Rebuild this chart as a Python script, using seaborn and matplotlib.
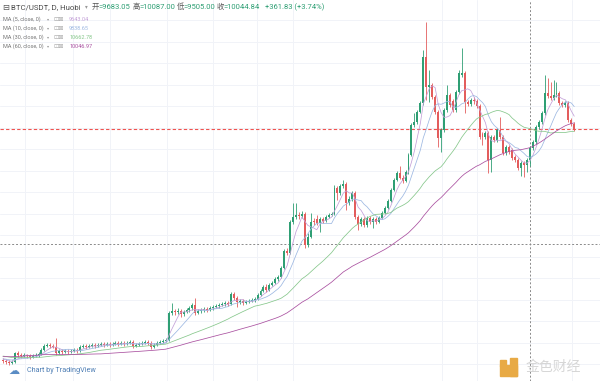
import numpy as np
import pandas as pd
import matplotlib
matplotlib.use("Agg")
import matplotlib.pyplot as plt
import seaborn as sns
from matplotlib.patches import Rectangle

# hidden earlier closes, only used to warm up the moving averages
warmup_close = [3700, 3600, 3560, 3540, 3570, 3550, 3500, 3480, 3460, 3440,
                3450, 3460, 3520, 3720, 3840, 3920, 4100, 4020, 4040, 3920,
                3980, 3880, 3980, 3930, 3850, 3900, 3870, 3990, 3930, 3940,
                3920, 4060, 4100, 3780, 3790, 3820, 3810, 3820, 3780, 3750,
                3840, 3810, 3830, 3790, 3750, 3780, 3800, 3800, 3770, 3720,
                3740, 3750, 3680, 3730, 3710, 3710, 3740, 3700, 3680]

# daily candles BTC/USDT (Huobi)
opens = [3670, 3640, 3610, 3580, 3610, 3880, 3820, 3790, 3820, 3790,
         3760, 3790, 3820, 3850, 3970, 4090, 4120, 4090, 4060, 3880,
         3940, 3910, 3940, 3910, 3940, 3970, 3940, 4060, 4090, 4060,
         4090, 4120, 4090, 4120, 4150, 4120, 4150, 4120, 4150, 4180,
         4150, 4180, 4150, 4180, 4210, 4090, 4120, 4150, 4180, 4210,
         4180, 4060, 4120, 4180, 4210, 4240, 4270, 5080, 5140, 5110,
         5140, 5050, 5110, 5170, 5230, 5320, 5080, 5140, 5170, 5200,
         5170, 5230, 5260, 5290, 5320, 5350, 5380, 5350, 5650, 5530,
         5410, 5440, 5380, 5410, 5440, 5470, 5500, 5620, 5740, 5860,
         5770, 5920, 5980, 6100, 6160, 6430, 6940, 6880, 7810, 7960,
         8020, 7990, 8050, 7120, 7360, 7840, 7900, 7780, 7900, 7840,
         7960, 8020, 8050, 8830, 8680, 8890, 8950, 8380, 8500, 8680,
         7960, 7750, 7900, 7720, 7930, 7810, 7900, 7810, 7930, 8080,
         8230, 8440, 8770, 9070, 9280, 9130, 9040, 9310, 9820, 10720,
         10810, 11110, 11380, 12760, 11860, 11920, 11560, 11110, 10330, 10570,
         11170, 11620, 11440, 11170, 11710, 12220, 12280, 11410, 11350, 11470,
         11440, 11290, 10450, 10360, 10480, 9670, 10360, 10270, 10570, 10360,
         9880, 10060, 9970, 9760, 9670, 9430, 9580, 9520, 9683.05, 10040,
         10210, 10660, 10810, 11080, 11680, 11590, 11530, 11620, 11680, 11380,
         11320, 11380, 10870, 10750]
highs = [3730, 3700, 3670, 3670, 3910, 3940, 3880, 3880, 3850, 3850,
         3850, 3880, 3910, 4030, 4150, 4180, 4180, 4150, 4330, 4000,
         4000, 4000, 4000, 4000, 4030, 4030, 4120, 4150, 4150, 4150,
         4180, 4180, 4180, 4210, 4210, 4210, 4210, 4210, 4240, 4240,
         4240, 4240, 4240, 4270, 4270, 4180, 4210, 4240, 4270, 4270,
         4240, 4180, 4240, 4270, 4300, 4330, 5140, 5380, 5200, 5230,
         5200, 5170, 5230, 5290, 5380, 5530, 5200, 5230, 5260, 5260,
         5290, 5320, 5350, 5380, 5410, 5440, 5440, 5710, 5710, 5590,
         5500, 5500, 5470, 5500, 5530, 5560, 5680, 5800, 5920, 5950,
         5980, 6040, 6160, 6220, 6490, 7000, 7030, 7870, 8380, 8380,
         8110, 8140, 8110, 7480, 8080, 7930, 8020, 7960, 7960, 8020,
         8080, 8110, 8920, 8890, 8950, 9070, 9010, 8590, 8740, 8740,
         8020, 7960, 7960, 7990, 7990, 7960, 7960, 7990, 8140, 8290,
         8500, 8830, 9130, 9340, 9490, 9220, 9370, 9880, 10780, 11080,
         11170, 11440, 12970, 13810, 12370, 11980, 11620, 11170, 10630, 11230,
         11920, 11680, 11500, 11770, 12370, 13030, 12340, 11470, 11530, 11560,
         11500, 11350, 10510, 10540, 10540, 10420, 10420, 10630, 10960, 10420,
         10120, 10120, 10030, 9820, 9730, 9640, 9640, 9730, 10087.00, 10270,
         10720, 10870, 11140, 12220, 12130, 12010, 12070, 12010, 11740, 11440,
         11440, 11440, 10930, 10810]
lows = [3580, 3550, 3520, 3550, 3580, 3760, 3730, 3760, 3730, 3700,
        3730, 3760, 3760, 3820, 3940, 4060, 4030, 4030, 3820, 3850,
        3850, 3880, 3850, 3880, 3910, 3880, 3910, 4030, 4000, 4030,
        4060, 4030, 4060, 4090, 4060, 4090, 4060, 4090, 4120, 4090,
        4120, 4090, 4120, 4150, 4030, 4060, 4090, 4120, 4150, 4120,
        4000, 4030, 4090, 4150, 4180, 4210, 4240, 5020, 5020, 5050,
        4960, 4990, 5080, 5110, 5170, 5020, 5050, 5080, 5110, 5110,
        5140, 5170, 5230, 5230, 5290, 5290, 5290, 5320, 5470, 5260,
        5350, 5320, 5350, 5380, 5410, 5410, 5470, 5590, 5710, 5710,
        5740, 5890, 5950, 6040, 6130, 6400, 6820, 6850, 7750, 7900,
        7900, 7930, 7030, 7060, 7330, 7720, 7720, 7510, 7780, 7810,
        7930, 7990, 8020, 8470, 8620, 8830, 8170, 8320, 8440, 7900,
        7570, 7690, 7660, 7660, 7750, 7630, 7750, 7780, 7900, 8050,
        8200, 8410, 8740, 9040, 9100, 8980, 9010, 9250, 9790, 10660,
        10750, 11080, 11320, 11470, 11410, 11500, 11050, 10060, 9910, 10510,
        11110, 11260, 11110, 11110, 11650, 12160, 11080, 11290, 11290, 11350,
        11230, 10300, 10120, 10300, 9280, 9310, 10210, 10210, 10300, 9820,
        9820, 9850, 9670, 9610, 9370, 9190, 9160, 9310, 9505.00, 9970,
        10150, 10600, 10750, 11020, 11530, 11470, 11470, 11560, 11320, 11260,
        11260, 10810, 10690, 10540]
closes = [3640, 3610, 3580, 3610, 3880, 3820, 3790, 3820, 3790, 3760,
          3790, 3820, 3850, 3970, 4090, 4120, 4090, 4060, 3880, 3940,
          3910, 3940, 3910, 3940, 3970, 3940, 4060, 4090, 4060, 4090,
          4120, 4090, 4120, 4150, 4120, 4150, 4120, 4150, 4180, 4150,
          4180, 4150, 4180, 4210, 4090, 4120, 4150, 4180, 4210, 4180,
          4060, 4120, 4180, 4210, 4240, 4270, 5080, 5140, 5110, 5140,
          5050, 5110, 5170, 5230, 5320, 5080, 5140, 5170, 5200, 5170,
          5230, 5260, 5290, 5320, 5350, 5380, 5350, 5650, 5530, 5410,
          5440, 5380, 5410, 5440, 5470, 5500, 5620, 5740, 5860, 5770,
          5920, 5980, 6100, 6160, 6430, 6940, 6880, 7810, 7960, 8020,
          7990, 8050, 7120, 7360, 7810, 7810, 7780, 7900, 7840, 7960,
          8020, 8050, 8830, 8680, 8890, 8950, 8380, 8500, 8680, 7960,
          7750, 7900, 7720, 7930, 7810, 7900, 7810, 7930, 8080, 8230,
          8440, 8770, 9070, 9280, 9130, 9040, 9310, 9820, 10720, 10810,
          11110, 11380, 12760, 11860, 11920, 11560, 11110, 10330, 10570, 11170,
          11620, 11320, 11170, 11710, 12280, 12280, 11410, 11350, 11470, 11440,
          11290, 10360, 10360, 10480, 9670, 10360, 10270, 10570, 10360, 9880,
          10060, 9910, 9730, 9670, 9430, 9580, 9520, 9670, 10044.84, 10210,
          10660, 10810, 11080, 11680, 11590, 11530, 11620, 11680, 11380, 11320,
          11380, 10870, 10750, 10600]

cross_idx = 178          # candle under the crosshair
cross_price = 7150       # horizontal crosshair level
change_text = "+361.83 (+3.74%)"
ma_periods = [5, 10, 30, 60]
ma_names = ["MA (5, close, 0)", "MA (10, close, 0)", "MA (30, close, 0)", "MA (60, close, 0)"]
ma_values_shown = ["9643.04", "9838.65", "10662.78", "10046.97"]
ma_colors = ["#c3a0d8", "#9db8e2", "#86c78b", "#a94f9f"]
grid_x = [7.4, 23.6, 36.1, 55.4, 70.9, 85.8, 98.0, 148.3, 160.1, 192.2]

UP = "#2f9f74"
DOWN = "#e35d5d"

sns.set_style("white")
plt.rcParams["font.family"] = ["Roboto", "Noto Sans CJK SC", "DejaVu Sans"]

n = len(closes)
idx = np.arange(n)
o = np.array(opens)
c = np.array(closes)
h = np.array(highs)
l = np.array(lows)

# moving averages from the full close history
full = pd.Series(warmup_close + closes, dtype=float)
rows = []
for p, name in zip(ma_periods, ma_names):
    ma = full.rolling(p).mean().to_numpy()[-n:]
    rows.append(pd.DataFrame({"idx": idx, "val": ma, "ma": name}))
ma_df = pd.concat(rows, ignore_index=True)

fig = plt.figure(figsize=(6, 3.81), dpi=100)
ax = fig.add_axes([0, 0, 1, 1])

# faint grid
for gy in np.arange(13870, 3000, -645):
    ax.axhline(gy, color="#f1f3f8", lw=0.7, zorder=0)
for gx in grid_x:
    ax.axvline(gx, color="#f1f3f8", lw=0.7, zorder=0)

# crosshair
ax.axhline(cross_price, color="#8a8a8a", lw=0.7, ls=(0, (2, 2)), zorder=1)
ax.axvline(cross_idx, color="#8a8a8a", lw=0.7, ls=(0, (2, 2)), zorder=1)

# candles
cols = np.where(c >= o, UP, DOWN)
ax.vlines(idx, l, h, colors=cols, lw=0.6, zorder=2)
body = np.maximum(np.abs(c - o), 18)
ax.bar(idx, body, bottom=np.minimum(o, c), width=0.66, color=cols, linewidth=0, zorder=3)

# moving averages
sns.lineplot(data=ma_df, x="idx", y="val", hue="ma", palette=dict(zip(ma_names, ma_colors)),
             linewidth=0.55, legend=False, ax=ax, zorder=4)

# last price line
ax.axhline(closes[-1], color="#ef5350", lw=0.8, ls=(0, (3, 2)), zorder=1)

ax.set_xlim(-1.01, 201.7)
ax.set_ylim(3040, 14470)
ax.axis("off")


def px(x, y):
    return x / 600, 1 - y / 381


# header
fig.text(*px(2, 7), "⊟", fontsize=6, color="#555555", va="center", family="DejaVu Sans")
fig.text(*px(11, 7), "BTC/USDT, D, Huobi", fontsize=5.6, color="#4a4a4a", va="center")
fig.text(*px(85, 7), "▾", fontsize=4, color="#999999", va="center", family="DejaVu Sans")
vals = [("开", opens[cross_idx]), ("高", highs[cross_idx]), ("低", lows[cross_idx]), ("收", closes[cross_idx])]
xs = [92, 133, 177, 217]
for (lab, v), xx in zip(vals, xs):
    fig.text(*px(xx, 7), lab, fontsize=5.3, color="#555555", va="center",
             family=["Noto Sans CJK SC", "DejaVu Sans"])
    fig.text(*px(xx + 6.5, 7), "=%.2f" % v, fontsize=5.5, color=UP, va="center")
fig.text(*px(265, 7), change_text, fontsize=5.5, color=UP, va="center")

for k, (name, val, col) in enumerate(zip(ma_names, ma_values_shown, ma_colors)):
    yy = 19.3 + 9 * k
    fig.text(*px(3, yy), name, fontsize=4, color="#777777", va="center")
    fig.text(*px(47, yy), "▾", fontsize=3, color="#999999", va="center", family="DejaVu Sans")
    fig.text(*px(53, yy), "⊡⊠", fontsize=4.5, color="#aaaaaa", va="center", family="DejaVu Sans")
    fig.text(*px(69, yy), val, fontsize=4, color=col, va="center")

# footer
fig.text(*px(8, 371), "☁", fontsize=8, color="#5a8cc4", va="center", family="DejaVu Sans")
fig.text(*px(27, 371), "Chart by TradingView", fontsize=5.2, color="#4f7fb5", va="center")

# watermark
fig.patches.append(Rectangle(px(500, 376), 17 / 600, 11 / 381, transform=fig.transFigure,
                             color="#e8aa45", zorder=5))
fig.patches.append(Rectangle(px(510, 376), 7 / 600, 18 / 381, transform=fig.transFigure,
                             color="#e8aa45", zorder=5))
fig.patches.append(Rectangle(px(500, 366), 6 / 600, 6 / 381, transform=fig.transFigure,
                             color="#e8aa45", zorder=5))
fig.text(*px(526, 367), "金色财经", fontsize=10, color="#d6d6d6", va="center",
         family=["Noto Sans CJK SC", "DejaVu Sans"])

fig.savefig("out.png", dpi=100)
